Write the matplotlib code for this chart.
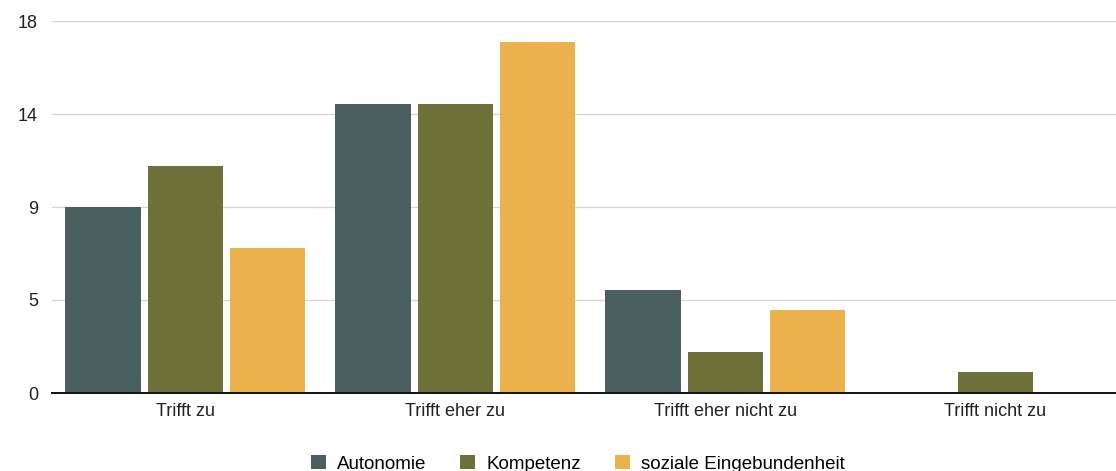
import matplotlib
matplotlib.use("Agg")
import matplotlib.pyplot as plt
import numpy as np

categories = ["Trifft zu", "Trifft eher zu", "Trifft eher nicht zu", "Trifft nicht zu"]
series_names = ["Autonomie", "Kompetenz", "soziale Eingebundenheit"]
autonomie = [9, 14, 5, 0]
kompetenz = [11, 14, 2, 1]
sozial = [7, 17, 4, 0]
y_ticks = [0, 4.5, 9, 13.5, 18]
y_tick_labels = ["0", "5", "9", "14", "18"]

colors = ["#4a6060", "#6e7039", "#eab14d"]

plt.rcParams["font.family"] = ["Liberation Sans", "DejaVu Sans"]

fig = plt.figure(figsize=(11.16, 4.71), dpi=100)
ax = fig.add_axes([52 / 1116, 78 / 471, (1116 - 52) / 1116, 372 / 471])

x = np.arange(len(categories))
w = 0.278
offs = [-0.304, 0.0, 0.304]
for vals, name, col, o in zip([autonomie, kompetenz, sozial], series_names, colors, offs):
    ax.bar(x + o, vals, width=w, color=col, label=name, zorder=3)

ax.set_xlim(-0.493, 3.448)
ax.set_ylim(0, 18)
ax.set_yticks(y_ticks)
ax.set_yticklabels(y_tick_labels)
ax.set_xticks(x)
ax.set_xticklabels(categories)
ax.tick_params(axis="both", length=0, labelsize=13, colors="#222")
ax.tick_params(axis="y", pad=10)
ax.tick_params(axis="x", pad=7)
ax.grid(axis="y", color="#d4d4d4", linewidth=0.9, zorder=0)
for s in ["top", "right", "left"]:
    ax.spines[s].set_visible(False)
ax.spines["bottom"].set_color("#111")
ax.spines["bottom"].set_linewidth(1.4)
ax.spines["bottom"].set_zorder(4)

ax.legend(loc="center", bbox_to_anchor=(0.494, -0.19), ncol=3, frameon=False,
          fontsize=13.5, handlelength=0.8, handleheight=0.8, columnspacing=1.8,
          handletextpad=0.6)

fig.savefig("out.png", dpi=100)
